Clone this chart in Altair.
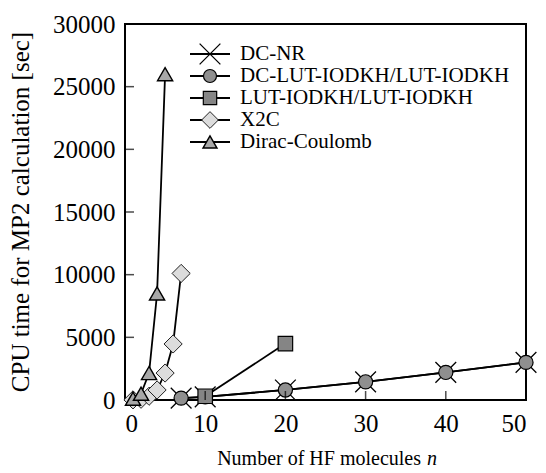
import altair as alt
import pandas as pd

# ---- data ----
series_names = ["DC-NR", "DC-LUT-IODKH/LUT-IODKH", "LUT-IODKH/LUT-IODKH", "X2C", "Dirac-Coulomb"]

n_dcnr = [7, 10, 20, 30, 40, 50]
t_dcnr = [150, 250, 800, 1450, 2200, 3000]

n_dclut = [7, 10, 20, 30, 40, 50]
t_dclut = [150, 250, 800, 1450, 2200, 3000]

n_lut = [10, 20]
t_lut = [300, 4500]

n_x2c = [1, 2, 3, 4, 5, 6, 7]
t_x2c = [10, 60, 300, 800, 2150, 4470, 10100]

n_dc = [1, 2, 3, 4, 5]
t_dc = [100, 500, 2150, 8500, 26000]

x_ticks = [0, 10, 20, 30, 40, 50]
y_ticks = [0, 5000, 10000, 15000, 20000, 25000, 30000]

x_title = "Number of HF molecules"
x_title_var = "n"
y_title = "CPU time for MP2 calculation [sec]"

FONT = "Liberation Serif"
W, H = 401, 376

X_PATH = "M-1,-1L1,1M1,-1L-1,1"

styles = {
    "DC-NR": dict(shape=X_PATH, fill="none", size=430, stroke="black", sw=1.3),
    "DC-LUT-IODKH/LUT-IODKH": dict(shape="circle", fill="#8f8f8f", size=200, stroke="black", sw=1.2),
    "LUT-IODKH/LUT-IODKH": dict(shape="square", fill="#858585", size=210, stroke="black", sw=1.2),
    "X2C": dict(shape="diamond", fill="#dcdcdc", size=330, stroke="#222222", sw=1.0),
    "Dirac-Coulomb": dict(shape="triangle-up", fill="#a8a8a8", size=230, stroke="black", sw=1.4),
}

data = {
    "DC-NR": (n_dcnr, t_dcnr),
    "DC-LUT-IODKH/LUT-IODKH": (n_dclut, t_dclut),
    "LUT-IODKH/LUT-IODKH": (n_lut, t_lut),
    "X2C": (n_x2c, t_x2c),
    "Dirac-Coulomb": (n_dc, t_dc),
}

xscale = alt.Scale(domain=[0, 50], nice=False, zero=False)
yscale = alt.Scale(domain=[0, 30000], nice=False)

x_axis = alt.Axis(values=x_ticks, format="d", tickSize=0, labelPadding=11, domain=False,
                  grid=False, title=None)
y_axis = alt.Axis(values=y_ticks, format="d", tickSize=0, labelPadding=10, domain=False,
                  grid=False, title=None)


def xenc():
    return alt.X("n:Q", scale=xscale, axis=x_axis)


def yenc():
    return alt.Y("t:Q", scale=yscale, axis=y_axis)


layers = []
for name in ["DC-NR", "X2C", "Dirac-Coulomb", "DC-LUT-IODKH/LUT-IODKH", "LUT-IODKH/LUT-IODKH"]:
    ns, ts = data[name]
    df = pd.DataFrame({"n": ns, "t": ts})
    st = styles[name]
    base = alt.Chart(df).encode(x=xenc(), y=yenc())
    layers.append(base.mark_line(color="black", strokeWidth=1.8, clip=True))
    layers.append(base.mark_point(shape=st["shape"], size=st["size"], filled=False,
                                  fill=st["fill"], fillOpacity=1, stroke=st["stroke"],
                                  strokeWidth=st["sw"], opacity=1, clip=False))

# inward ticks
xt = pd.DataFrame({"n": x_ticks[1:-1]})
xtick_layer = alt.Chart(xt).mark_tick(color="black", thickness=1.5, size=9).encode(
    x=xenc(), y=alt.value(H - 4.5))
yt = pd.DataFrame({"t": y_ticks[1:-1]})
ytick_layer = alt.Chart(yt).mark_tick(color="black", thickness=1.5, size=9).encode(
    y=yenc(), x=alt.value(4.5))

# x title with italic n
xtitle1 = alt.Chart(pd.DataFrame({"s": [x_title]})).mark_text(
    font=FONT, fontSize=20, align="right", baseline="alphabetic", color="black").encode(
    text="s:N", x=alt.value(296), y=alt.value(441))
xtitle2 = alt.Chart(pd.DataFrame({"s": [x_title_var]})).mark_text(
    font=FONT, fontSize=20, fontStyle="italic", align="left", baseline="alphabetic", color="black").encode(
    text="s:N", x=alt.value(302), y=alt.value(441))
ytitle = alt.Chart(pd.DataFrame({"s": [y_title]})).mark_text(
    font=FONT, fontSize=25, angle=270, align="center", baseline="middle", color="black").encode(
    text="s:N", x=alt.value(-104), y=alt.value(H / 2))

# manual legend
leg_y0, leg_dy = 30, 22
leg_rows = []
for i, name in enumerate(series_names):
    leg_rows.append({"name": name, "yy": leg_y0 + i * leg_dy})
leg_df = pd.DataFrame(leg_rows)
leg_layers = [
    alt.Chart(leg_df).mark_rule(color="black", strokeWidth=1.8).encode(
        x=alt.value(65), x2=alt.value(105), y=alt.Y("yy:Q", scale=None)),
]
for i, name in enumerate(series_names):
    st = styles[name]
    sub = leg_df[leg_df["name"] == name]
    leg_layers.append(alt.Chart(sub).mark_point(
        shape=st["shape"], size=st["size"] * (0.85 if name != "DC-NR" else 1.0), filled=False,
        fill=st["fill"], fillOpacity=1, stroke=st["stroke"], strokeWidth=st["sw"], opacity=1).encode(
        x=alt.value(85), y=alt.Y("yy:Q", scale=None)))
leg_layers.append(alt.Chart(leg_df).mark_text(font=FONT, fontSize=21, align="left", baseline="middle",
                                              color="black").encode(
    x=alt.value(115), y=alt.Y("yy:Q", scale=None), text="name:N"))

chart = alt.layer(*layers, xtick_layer, ytick_layer, xtitle1, xtitle2, ytitle, *leg_layers).properties(
    width=W, height=H,
    autosize=alt.AutoSizeParams(type="none"),
    padding={"left": 117, "top": 16, "right": 12, "bottom": 73},
    background="white",
).configure_view(stroke="black", strokeWidth=2).configure_axis(
    labelFont=FONT, labelFontSize=25, labelColor="black"
)

chart.save("out.html", embed_options={"renderer": "svg", "actions": False})
